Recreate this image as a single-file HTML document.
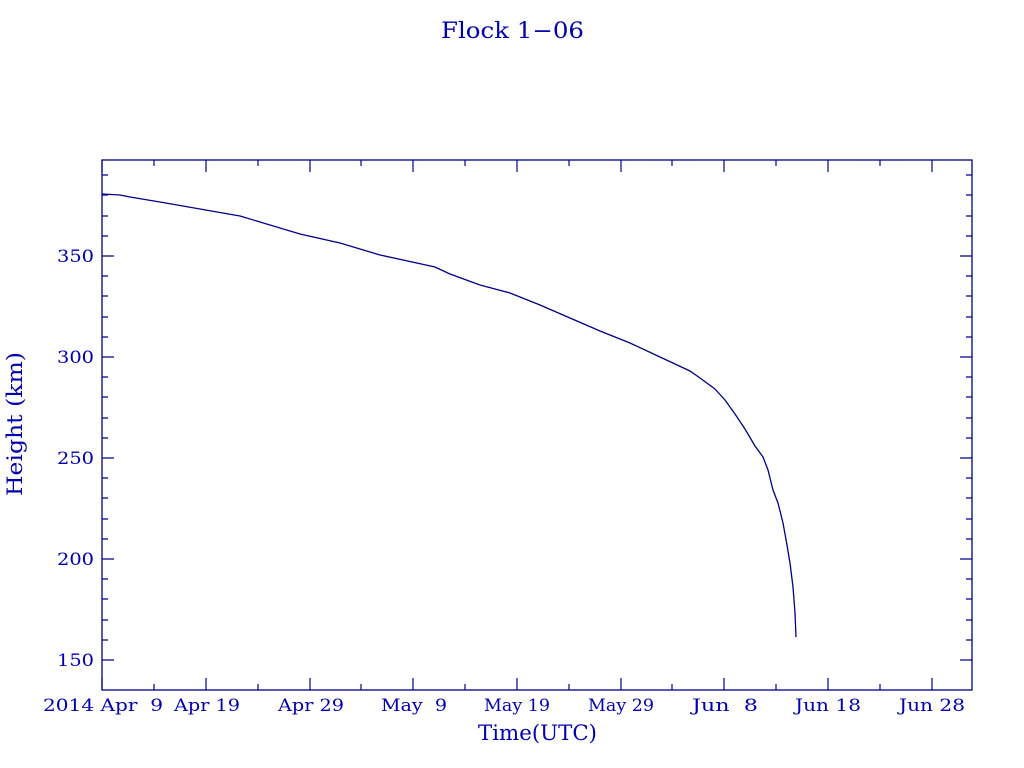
<!DOCTYPE html>
<html><head><style>body{margin:0;background:#fff}svg{display:block}text{font-family:"DejaVu Serif","Liberation Serif",serif;fill:#0000b0}</style></head><body>
<svg width="1024" height="768" xmlns="http://www.w3.org/2000/svg">
<text x="441" y="38" font-size="22" textLength="143" lengthAdjust="spacingAndGlyphs">Flock 1−06</text>
<rect x="102" y="160" width="870" height="530" fill="none" stroke="#00008b" stroke-width="1.3"/>
<g stroke="#00008b" stroke-width="1.2">
<path d="M102,690v-12M154,690v-6M206,690v-12M258,690v-6M310,690v-12M361,690v-6M413,690v-12M465,690v-6M517,690v-12M569,690v-6M621,690v-12M672,690v-6M724,690v-12M776,690v-6M828,690v-12M880,690v-6M932,690v-12
M102,160v12M154,160v6M206,160v12M258,160v6M310,160v12M361,160v6M413,160v12M465,160v6M517,160v12M569,160v6M621,160v12M672,160v6M724,160v12M776,160v6M828,160v12M880,160v6M932,160v12
M102,660h12M102,640h6M102,620h6M102,599h6M102,579h6M102,559h12M102,539h6M102,519h6M102,498h6M102,478h6M102,458h12M102,438h6M102,418h6M102,397h6M102,377h6M102,357h12M102,337h6M102,317h6M102,296h6M102,276h6M102,256h12M102,236h6M102,216h6M102,195h6M102,175h6
M972,660h-12M972,640h-6M972,620h-6M972,599h-6M972,579h-6M972,559h-12M972,539h-6M972,519h-6M972,498h-6M972,478h-6M972,458h-12M972,438h-6M972,418h-6M972,397h-6M972,377h-6M972,357h-12M972,337h-6M972,317h-6M972,296h-6M972,276h-6M972,256h-12M972,236h-6M972,216h-6M972,195h-6M972,175h-6"/>
</g>
<g font-size="17">
<text x="57" y="666" textLength="37" lengthAdjust="spacingAndGlyphs">150</text>
<text x="57" y="565" textLength="37" lengthAdjust="spacingAndGlyphs">200</text>
<text x="57" y="464" textLength="37" lengthAdjust="spacingAndGlyphs">250</text>
<text x="57" y="363" textLength="37" lengthAdjust="spacingAndGlyphs">300</text>
<text x="57" y="262" textLength="37" lengthAdjust="spacingAndGlyphs">350</text>
</g>
<g font-size="17">
<text x="43" y="711" textLength="120" lengthAdjust="spacingAndGlyphs">2014 Apr&#160;&#160;9</text>
<text x="174" y="711" textLength="66" lengthAdjust="spacingAndGlyphs">Apr 19</text>
<text x="278" y="711" textLength="66" lengthAdjust="spacingAndGlyphs">Apr 29</text>
<text x="381" y="711" textLength="66" lengthAdjust="spacingAndGlyphs">May&#160;&#160;9</text>
<text x="484" y="711" textLength="66" lengthAdjust="spacingAndGlyphs">May 19</text>
<text x="588" y="711" textLength="66" lengthAdjust="spacingAndGlyphs">May 29</text>
<text x="692" y="711" textLength="66" lengthAdjust="spacingAndGlyphs">Jun&#160;&#160;8</text>
<text x="795" y="711" textLength="66" lengthAdjust="spacingAndGlyphs">Jun 18</text>
<text x="899" y="711" textLength="66" lengthAdjust="spacingAndGlyphs">Jun 28</text>
</g>
<text x="478" y="740" font-size="21" textLength="119" lengthAdjust="spacingAndGlyphs">Time(UTC)</text>
<text transform="translate(22,496) rotate(-90)" font-size="21" textLength="144" lengthAdjust="spacingAndGlyphs">Height (km)</text>
<polyline fill="none" stroke="#00008b" stroke-width="1.3" points="102,194 120,195 130,197 160,202 200,209 240,216 270,225 300,234 340,243 380,255 435,267 450,274 480,285 510,293 540,305 570,318 600,331 630,343 660,357 690,371 700,378 715,389 725,400 735,414 745,429 755,446 763,457 768,470 773,490 778,503 783,523 787,545 790,563 793,587 795,613 796,637"/>
</svg>
</body></html>
